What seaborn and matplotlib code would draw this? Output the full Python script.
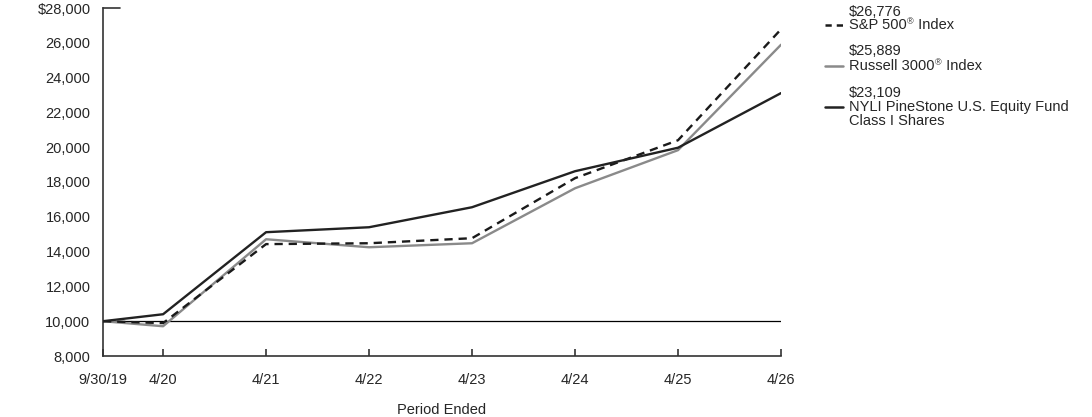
import numpy as np
import pandas as pd
import matplotlib
matplotlib.use("Agg")
import matplotlib.pyplot as plt
import seaborn as sns

# data
period_labels = ["9/30/19", "4/20", "4/21", "4/22", "4/23", "4/24", "4/25", "4/26"]
months = [0, 7, 19, 31, 43, 55, 67, 79]  # months since 9/30/19
sp500 = [10000, 9890, 14430, 14480, 14770, 18220, 20400, 26776]
russell = [10000, 9710, 14710, 14250, 14480, 17640, 19830, 25889]
fund = [10000, 10400, 15115, 15400, 16550, 18620, 19970, 23109]

sns.set_style("white")
plt.rcParams['font.family'] = ['Liberation Sans', 'DejaVu Sans']

FS = 10.5

fig = plt.figure(figsize=(10.92, 4.17), dpi=100)
ax = fig.add_axes([103 / 1092, 1 - 356 / 417, (781 - 103) / 1092, (356 - 8) / 417])

df = pd.DataFrame({'x': months, 'sp': sp500, 'ru': russell, 'fund': fund})

# baseline at $10,000
ax.axhline(10000, color='black', lw=0.9, zorder=1)

sns.lineplot(data=df, x='x', y='ru', ax=ax, color='#8a8a8a', lw=1.7, zorder=2)
sns.lineplot(data=df, x='x', y='sp', ax=ax, color='#1a1a1a', lw=1.7, zorder=3,
             linestyle=(0, (3.5, 2.5)))
sns.lineplot(data=df, x='x', y='fund', ax=ax, color='#222222', lw=1.7, zorder=4)

ax.set_xlim(0, 79)
ax.set_ylim(8000, 28000)
ax.set_xticks(months)
ax.set_xticklabels(period_labels)
yt = np.arange(8000, 28001, 2000)
ax.set_yticks(yt)
ax.set_yticklabels(['$28,000' if v == 28000 else f'{v:,}' for v in yt])

for s in ['top', 'right']:
    ax.spines[s].set_visible(False)
for s in ['left', 'bottom']:
    ax.spines[s].set_color('#333333')
    ax.spines[s].set_linewidth(1.2)

ax.tick_params(axis='x', direction='in', length=5, width=1.2, color='#333333',
               labelsize=FS, pad=12, bottom=True)
ax.tick_params(axis='y', length=0, labelsize=FS, pad=9)
ax.set_xlabel('Period Ended', fontsize=FS, labelpad=12)
ax.set_ylabel('')

# short cap line at the top of the y axis
ax.plot([0, 0.025], [1, 1], transform=ax.transAxes, color='#333333', lw=1.2, clip_on=False)

# custom legend at right
def fx(px):
    return px / 1092

def fy(py):
    return 1 - py / 417

renderer = fig.canvas.get_renderer()

def reg_text(x_px, y_px, before, after):
    # text with a small raised (R) mark between two parts
    t1 = fig.text(fx(x_px), fy(y_px), before, fontsize=FS, va='center', ha='left')
    w1 = t1.get_window_extent(renderer).width
    t2 = fig.text(fx(x_px + w1 + 0.5), fy(y_px - 3), '\u00ae', fontsize=6.5, va='center', ha='left')
    w2 = t2.get_window_extent(renderer).width
    fig.text(fx(x_px + w1 + w2 + 0.5), fy(y_px), after, fontsize=FS, va='center', ha='left')

entries = [
    ('$26,776', ('S&P 500', ' Index'), [12, 25], dict(color='#1a1a1a', linestyle=(0, (2.5, 2)))),
    ('$25,889', ('Russell 3000', ' Index'), [51, 66], dict(color='#8a8a8a', linestyle='-')),
    ('$23,109', None, [93, 107, 121], dict(color='#222222', linestyle='-')),
]
for val, name, rows, style in entries:
    fig.text(fx(849), fy(rows[0]), val, fontsize=FS, va='center', ha='left')
    if name:
        reg_text(849, rows[1], name[0], name[1])
    else:
        fig.text(fx(849), fy(rows[1]), 'NYLI PineStone U.S. Equity Fund', fontsize=FS, va='center', ha='left')
        fig.text(fx(849), fy(rows[2]), 'Class I Shares', fontsize=FS, va='center', ha='left')
    fig.add_artist(plt.Line2D([fx(825), fx(843)], [fy(rows[1]), fy(rows[1])], lw=1.8, **style))

fig.savefig('out.png', dpi=100)
